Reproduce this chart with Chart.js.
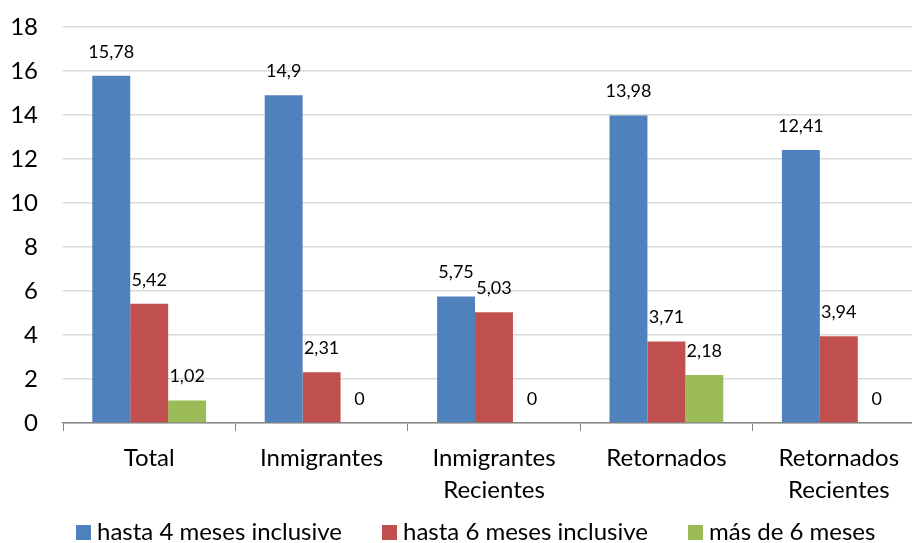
<!DOCTYPE html>
<html>
<head>
<meta charset="utf-8">
<script src="https://cdn.jsdelivr.net/npm/chart.js@4.4.0/dist/chart.umd.min.js"></script>
<style>
body{margin:0;background:#fff;overflow:hidden;}
</style>
</head>
<body>
<canvas id="grafico" width="925" height="543"></canvas>
<script>
const categorias = [["Total"], ["Inmigrantes"], ["Inmigrantes", "Recientes"], ["Retornados"], ["Retornados", "Recientes"]];
const hasta4 = [15.78, 14.9, 5.75, 13.98, 12.41];
const hasta6 = [5.42, 2.31, 5.03, 3.71, 3.94];
const mas6 = [1.02, 0, 0, 2.18, 0];
const ticksY = [0, 2, 4, 6, 8, 10, 12, 14, 16, 18];

const fuente = "Lato, 'Open Sans', sans-serif";

// etiquetas de valor encima de cada barra
const etiquetas = {
  id: "etiquetas",
  afterDatasetsDraw(chart){
    const ctx = chart.ctx;
    ctx.save();
    ctx.font = "18px " + fuente;
    ctx.fillStyle = "#000";
    ctx.textAlign = "center";
    ctx.textBaseline = "middle";
    chart.data.datasets.forEach((ds, i) => {
      chart.getDatasetMeta(i).data.forEach((bar, j) => {
        let txt = String(ds.data[j]).replace(".", ",");
        ctx.fillText(txt, bar.x, bar.y - 24);
      });
    });
    ctx.restore();
  }
};

// leyenda abajo, dibujada a mano
const leyenda = {
  id: "leyenda",
  afterDraw(chart){
    const ctx = chart.ctx;
    ctx.save();
    ctx.font = "24px " + fuente;
    ctx.textBaseline = "middle";
    ctx.textAlign = "left";
    let x = 76;
    const y = 532;
    chart.data.datasets.forEach(ds => {
      ctx.fillStyle = ds.backgroundColor;
      ctx.fillRect(x, y - 7, 15, 15);
      ctx.fillStyle = "#000";
      ctx.fillText(ds.label, x + 21, y);
      x += 21 + ctx.measureText(ds.label).width + 40;
    });
    ctx.restore();
  }
};

new Chart(document.getElementById("grafico"), {
  type: "bar",
  data: {
    labels: categorias,
    datasets: [
      {label: "hasta 4 meses inclusive", data: hasta4, backgroundColor: "#4F81BD"},
      {label: "hasta 6 meses inclusive", data: hasta6, backgroundColor: "#C0504D"},
      {label: "más de 6 meses", data: mas6, backgroundColor: "#9BBB59"}
    ]
  },
  options: {
    responsive: false,
    animation: false,
    layout: {padding: {top: 27, left: 0, right: 0, bottom: 0}},
    datasets: {bar: {categoryPercentage: 0.66, barPercentage: 1}},
    plugins: {
      tooltip: {enabled: false},
      legend: {display: false}
    },
    scales: {
      x: {
        grid: {drawOnChartArea: false, tickLength: 8, color: "#868686"},
        border: {color: "#868686", width: 1.5},
        ticks: {font: {family: fuente, size: 24, lineHeight: 1.35}, color: "#000", padding: 11},
        afterFit: s => { s.height = 120; }
      },
      y: {
        min: 0,
        max: 18,
        afterBuildTicks: s => { s.ticks = ticksY.map(v => ({value: v})); },
        grid: {color: "#D9D9D9", lineWidth: 1.5, drawTicks: false},
        border: {display: false},
        ticks: {font: {family: fuente, size: 24}, color: "#000", padding: 25},
        afterFit: s => { s.width = 63; s.paddingTop = 0; s.paddingBottom = 0; }
      }
    }
  },
  plugins: [etiquetas, leyenda]
});
</script>
</body>
</html>
